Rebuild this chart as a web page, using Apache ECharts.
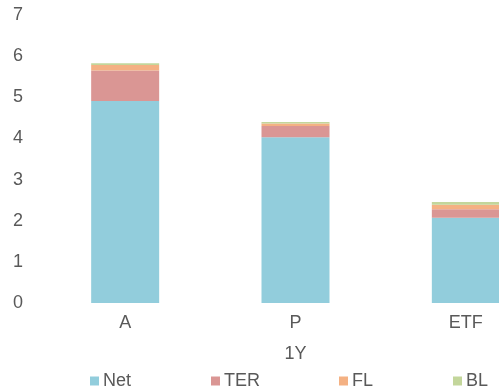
<!DOCTYPE html>
<html><head><meta charset="utf-8">
<script src="https://cdn.jsdelivr.net/npm/echarts@6/dist/echarts.min.js"></script>
<style>html,body{margin:0;padding:0;background:#fff}#c{width:499px;height:389px}</style>
</head><body><div id="c"></div>
<script>
const categories = ['A', 'P', 'ETF'];
const seriesNames = ['Net', 'TER', 'FL', 'BL'];
const netValues = [4.91, 4.03, 2.07];
const terValues = [0.74, 0.27, 0.21];
const flValues = [0.135, 0.06, 0.11];
const blValues = [0.04, 0.04, 0.065];
const yTicks = [0, 1, 2, 3, 4, 5, 6, 7];
const axisName = '1Y';

const colors = ['#92CDDC', '#DA9694', '#F4B183', '#C3D69B'];
const values = [netValues, terValues, flValues, blValues];
const font = 'Liberation Sans, Arial, sans-serif';
const txt = '#595959';
const legendLefts = [90, 211, 339, 453];

const chart = echarts.init(document.getElementById('c'));
chart.setOption({
  animation: false,
  grid: { left: 40, width: 511, top: 15, bottom: 86, outerBoundsMode: 'none', containLabel: false },
  xAxis: {
    type: 'category', data: categories,
    axisLine: { show: false }, axisTick: { show: false },
    axisLabel: { color: txt, fontSize: 18, fontFamily: font, margin: 11 },
    name: axisName, nameLocation: 'middle', nameGap: 42,
    nameTextStyle: { color: txt, fontSize: 18, fontFamily: font }
  },
  yAxis: {
    type: 'value', min: yTicks[0], max: yTicks[yTicks.length - 1], interval: 1,
    axisLine: { show: false }, axisTick: { show: false }, splitLine: { show: false },
    axisLabel: { color: txt, fontSize: 18, fontFamily: font, margin: 17 }
  },
  legend: seriesNames.map((n, i) => ({
    data: [n], left: legendLefts[i], top: 372, icon: 'rect', padding: 0,
    itemWidth: 9, itemHeight: 9, itemGap: 0,
    textStyle: { color: txt, fontSize: 18, fontFamily: font, padding: [0, 0, 0, -1] }
  })),
  series: seriesNames.map((n, i) => ({
    name: n, type: 'bar', stack: 'total', data: values[i], barWidth: 68,
    itemStyle: { color: colors[i] }
  }))
});
</script></body></html>
